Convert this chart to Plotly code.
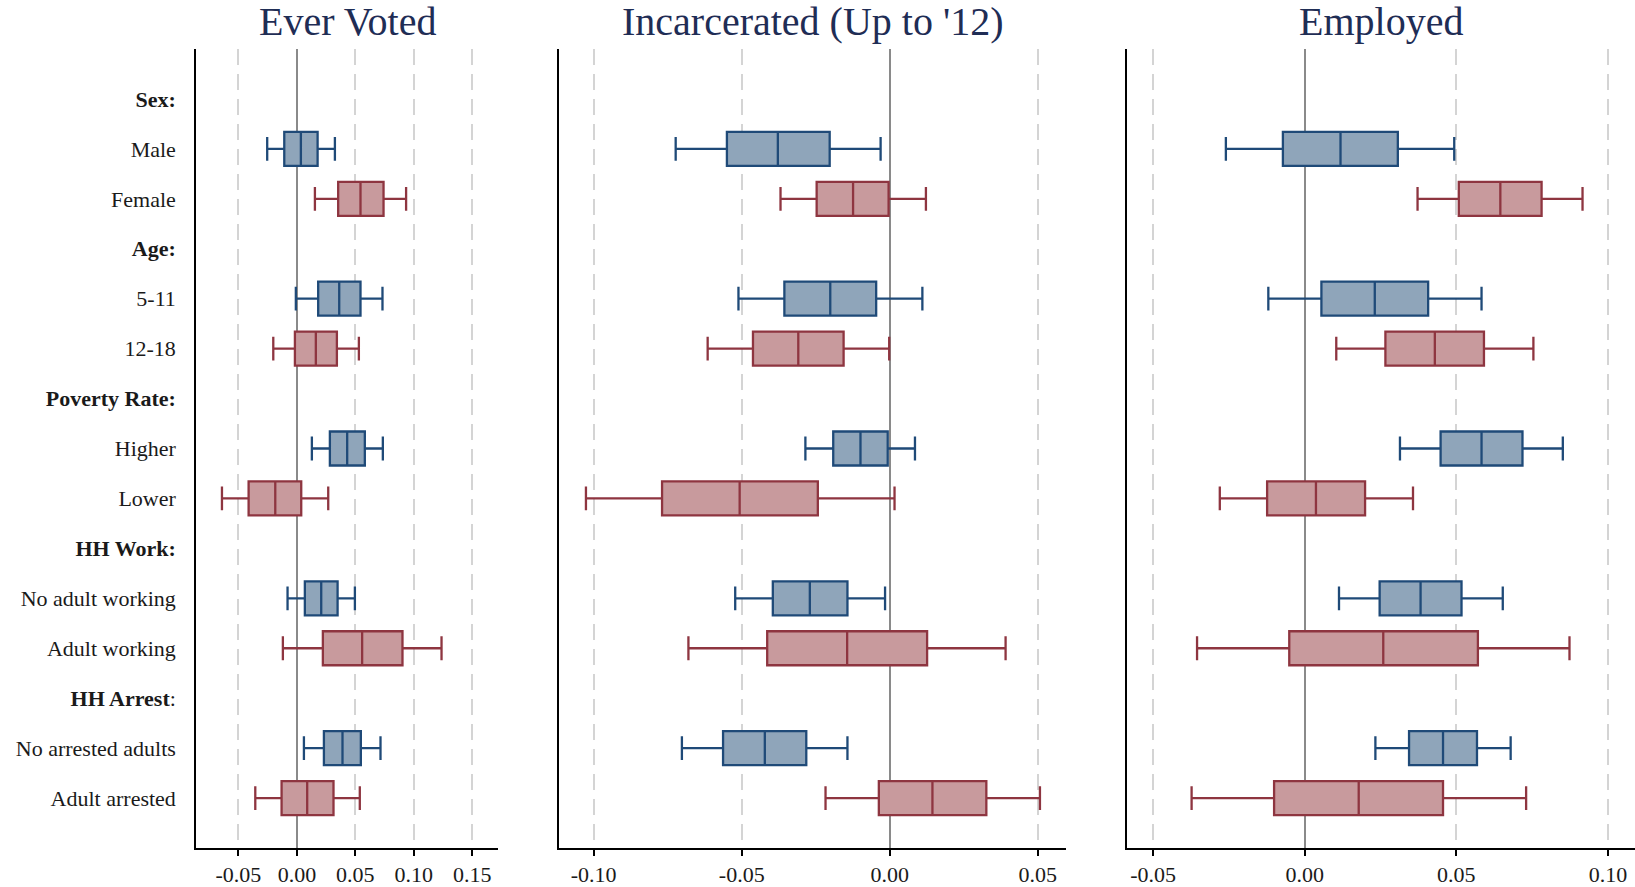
import plotly.graph_objects as go

# ---------------- data ----------------
row_labels = ["<b>Sex:</b>", "Male", "Female",
              "<b>Age:</b>", "5-11", "12-18",
              "<b>Poverty Rate:</b>", "Higher", "Lower",
              "<b>HH Work:</b>", "No adult working", "Adult working",
              "<b>HH Arrest</b>:", "No arrested adults", "Adult arrested"]
# rows that carry a box (index into row_labels)
box_rows = [1, 2, 4, 5, 7, 8, 10, 11, 13, 14]
box_group = ["blue", "red", "blue", "red", "blue", "red", "blue", "red", "blue", "red"]

panel_titles = ["Ever Voted", "Incarcerated (Up to '12)", "Employed"]

voted_lo  = [-0.0254, 0.0154, -0.0009, -0.0202, 0.0128, -0.0641, -0.0080, -0.0120, 0.0060, -0.0356]
voted_q1  = [-0.0108, 0.0353, 0.0182, -0.0017, 0.0282, -0.0413, 0.0068, 0.0222, 0.0231, -0.0131]
voted_med = [0.0034, 0.0544, 0.0362, 0.0162, 0.0430, -0.0185, 0.0208, 0.0558, 0.0390, 0.0088]
voted_q3  = [0.0177, 0.0741, 0.0544, 0.0342, 0.0581, 0.0037, 0.0348, 0.0903, 0.0547, 0.0313]
voted_hi  = [0.0325, 0.0934, 0.0732, 0.0530, 0.0735, 0.0268, 0.0496, 0.1237, 0.0715, 0.0538]

incar_lo  = [-0.0723, -0.0369, -0.0511, -0.0615, -0.0285, -0.1026, -0.0522, -0.0680, -0.0702, -0.0217]
incar_q1  = [-0.0550, -0.0247, -0.0356, -0.0462, -0.0191, -0.0769, -0.0395, -0.0414, -0.0563, -0.0037]
incar_med = [-0.0378, -0.0124, -0.0201, -0.0309, -0.0099, -0.0507, -0.0270, -0.0144, -0.0422, 0.0144]
incar_q3  = [-0.0203, -0.0004, -0.0046, -0.0156, -0.0007, -0.0243, -0.0143, 0.0126, -0.0282, 0.0326]
incar_hi  = [-0.0031, 0.0122, 0.0110, -0.0002, 0.0085, 0.0016, -0.0016, 0.0391, -0.0143, 0.0507]

empl_lo  = [-0.0260, 0.0372, -0.0120, 0.0104, 0.0314, -0.0280, 0.0113, -0.0355, 0.0233, -0.0373]
empl_q1  = [-0.0072, 0.0508, 0.0055, 0.0266, 0.0448, -0.0124, 0.0247, -0.0051, 0.0344, -0.0101]
empl_med = [0.0118, 0.0645, 0.0231, 0.0429, 0.0583, 0.0037, 0.0382, 0.0259, 0.0456, 0.0178]
empl_q3  = [0.0307, 0.0781, 0.0407, 0.0591, 0.0718, 0.0199, 0.0517, 0.0571, 0.0568, 0.0456]
empl_hi  = [0.0493, 0.0916, 0.0583, 0.0754, 0.0851, 0.0357, 0.0653, 0.0873, 0.0679, 0.0730]

tickvals_1 = [-0.05, 0.00, 0.05, 0.10, 0.15]
ticktext_1 = ["-0.05", "0.00", "0.05", "0.10", "0.15"]
tickvals_2 = [-0.10, -0.05, 0.00, 0.05]
ticktext_2 = ["-0.10", "-0.05", "0.00", "0.05"]
tickvals_3 = [-0.05, 0.00, 0.05, 0.10]
ticktext_3 = ["-0.05", "0.00", "0.05", "0.10"]

# ---------------- styling ----------------
W, H = 1635, 887
FONT = "Liberation Serif, Times New Roman, serif"
line_col = {"blue": "#1f4a78", "red": "#8e3540"}
fill_col = {"blue": "#8fa5ba", "red": "#c89a9d"}
title_col = "#1f2d55"
text_col = "#1a1a1a"

panels = [
    (voted_lo, voted_q1, voted_med, voted_q3, voted_hi, tickvals_1, ticktext_1, [-0.0863, 0.172], [196, 498]),
    (incar_lo, incar_q1, incar_med, incar_q3, incar_hi, tickvals_2, ticktext_2, [-0.1117, 0.0595], [559, 1066]),
    (empl_lo, empl_q1, empl_med, empl_q3, empl_hi, tickvals_3, ticktext_3, [-0.0586, 0.1089], [1127, 1635]),
]

fig = go.Figure()
layout = dict(
    width=W, height=H,
    margin=dict(l=0, r=0, t=49, b=39),
    paper_bgcolor="white", plot_bgcolor="white",
    showlegend=False, boxmode="overlay",
    font=dict(family=FONT, size=22, color=text_col),
)
annotations = []

for p, (lo, q1, med, q3, hi, tv, tt, xr, px) in enumerate(panels):
    ax = "" if p == 0 else str(p + 1)
    for grp in ["blue", "red"]:
        idx = [i for i, g in enumerate(box_group) if g == grp]
        fig.add_trace(go.Box(
            orientation="h",
            y=[box_rows[i] for i in idx],
            q1=[q1[i] for i in idx],
            median=[med[i] for i in idx],
            q3=[q3[i] for i in idx],
            lowerfence=[lo[i] for i in idx],
            upperfence=[hi[i] for i in idx],
            width=0.68,
            whiskerwidth=0.7,
            fillcolor=fill_col[grp],
            line=dict(color=line_col[grp], width=2.3),
            boxpoints=False,
            hoverinfo="skip",
            xaxis="x" + ax, yaxis="y" + ax,
        ))
    layout["xaxis" + ax] = dict(
        domain=[px[0] / W, px[1] / W], range=xr, anchor="y" + ax,
        tickvals=tv, ticktext=tt,
        showgrid=True, gridcolor="#d4d4d4", gridwidth=2, griddash="16px,9px",
        zeroline=True, zerolinecolor="#8a8a8a", zerolinewidth=2,
        showline=True, linecolor="black", linewidth=1.5,
        ticks="outside", ticklen=6, tickwidth=1.5, tickcolor="black",
        tickfont=dict(family=FONT, size=22, color=text_col),
        fixedrange=True,
    )
    layout["yaxis" + ax] = dict(
        domain=[0, 1], range=[15.0, -1.0], anchor="x" + ax,
        tickvals=list(range(len(row_labels))),
        ticktext=row_labels if p == 0 else [""] * len(row_labels),
        showticklabels=(p == 0),
        ticks="", ticklabelstandoff=14,
        showgrid=False, zeroline=False,
        showline=True, linecolor="black", linewidth=1.5,
        tickfont=dict(family=FONT, size=22, color=text_col),
        fixedrange=True,
    )
    annotations.append(dict(
        text=panel_titles[p], xref="paper", yref="paper",
        x=(px[0] + px[1]) / 2 / W, y=1, xanchor="center", yanchor="bottom",
        yshift=3, showarrow=False,
        font=dict(family=FONT, size=40, color=title_col),
    ))

layout["annotations"] = annotations
fig.update_layout(**layout)

fig.write_html("out.html", post_script="document.body.style.margin='0';",
               config={"displayModeBar": False})
